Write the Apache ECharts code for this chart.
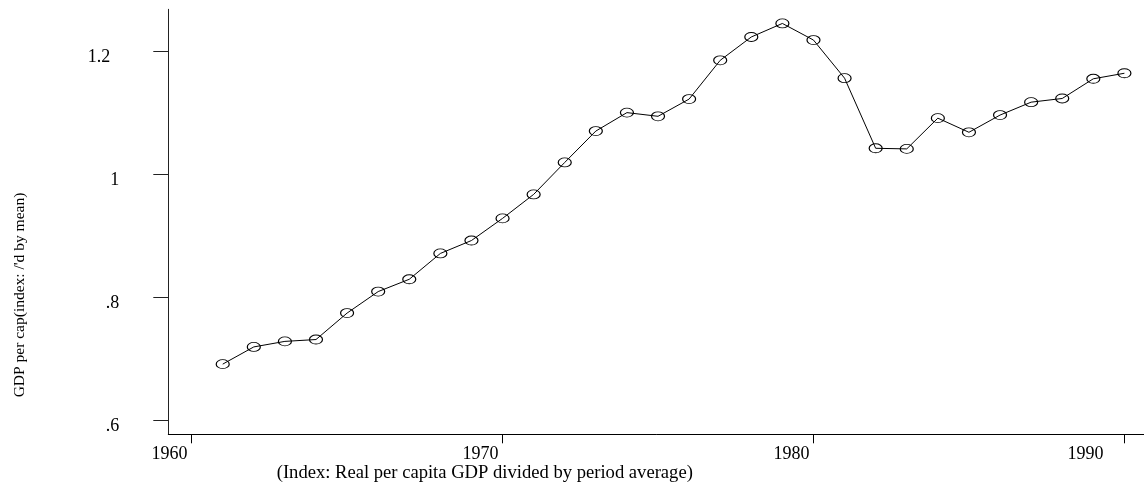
<!DOCTYPE html>
<html>
<head>
<meta charset="utf-8">
<script src="https://cdn.jsdelivr.net/npm/echarts@6/dist/echarts.min.js"></script>
<style>
html,body{margin:0;padding:0;background:#fff;}
#chart{width:1144px;height:488px;}
</style>
</head>
<body>
<div id="chart"></div>
<script>
const years = [1961,1962,1963,1964,1965,1966,1967,1968,1969,1970,
               1971,1972,1973,1974,1975,1976,1977,1978,1979,1980,
               1981,1982,1983,1984,1985,1986,1987,1988,1989,1990];
const gdpIndex = [0.692,0.720,0.729,0.732,0.775,0.810,0.830,0.872,0.893,0.929,
                  0.968,1.020,1.071,1.101,1.095,1.123,1.186,1.224,1.246,1.219,
                  1.157,1.043,1.042,1.092,1.069,1.097,1.118,1.124,1.156,1.165];
const xTicks = [1960,1970,1980,1990];
const yTicks = [0.6,0.8,1.0,1.2];
const yTickLabels = ['.6','.8','1','1.2'];
const yTitle = "GDP per cap(index: /'d by mean)";
const xTitle = "(Index: Real per capita GDP divided by period average)";

const font = '"Liberation Serif", "Times New Roman", serif';
const chart = echarts.init(document.getElementById('chart'), null, {renderer:'canvas'});
chart.setOption({
  animation:false,
  backgroundColor:'#fff',
  grid:{left:168.3, right:0, top:9.3, bottom:53.7, containLabel:false},
  xAxis:{
    type:'value', min:1959.25, max:1990.63,
    splitLine:{show:false},
    axisLine:{show:true, lineStyle:{color:'#000', width:1}},
    axisTick:{show:true, inside:false, length:9, customValues:xTicks, lineStyle:{color:'#000', width:1}},
    axisLabel:{
      customValues:xTicks, margin:11, align:'right', padding:[0,4,0,0],
      color:'#000', fontFamily:font, fontSize:18,
      formatter:function(v){ return v===1990 ? '{s|'+v+'}' : String(v); },
      rich:{s:{fontFamily:font, fontSize:18, color:'#000', padding:[0,17,0,0]}}
    }
  },
  yAxis:{
    type:'value', min:0.5779, max:1.269,
    splitLine:{show:false},
    axisLine:{show:true, lineStyle:{color:'#222', width:1}},
    axisTick:{show:true, inside:false, length:15, customValues:yTicks, lineStyle:{color:'#222', width:1}},
    axisLabel:{
      customValues:yTicks, margin:49, align:'right', verticalAlign:'middle', padding:[11,0,0,0],
      color:'#000', fontFamily:font, fontSize:18,
      formatter:function(v){
        const i = yTicks.findIndex(t => Math.abs(t-v)<1e-6);
        const s = i>=0 ? yTickLabels[i] : String(v);
        return s==='1.2' ? '{s|'+s+'}' : s;
      },
      rich:{s:{fontFamily:font, fontSize:18, color:'#000', padding:[0,9,0,0]}}
    }
  },
  graphic:[
    {type:'text', x:20, y:295, rotation:Math.PI/2,
     style:{text:yTitle, font:'15.5px '+font, fill:'#000', align:'center', verticalAlign:'middle'}},
    {type:'text', x:276.7, y:473,
     style:{text:xTitle, font:'18.6px '+font, fill:'#000', align:'left', verticalAlign:'middle'}}
  ],
  series:[{
    type:'line',
    data:years.map((y,i)=>[y,gdpIndex[i]]),
    symbol:'circle', symbolSize:[13,9],
    itemStyle:{color:'rgba(0,0,0,0)', borderColor:'#000', borderWidth:1},
    lineStyle:{color:'#000', width:1},
    emphasis:{disabled:true}
  }]
});
</script>
</body>
</html>
